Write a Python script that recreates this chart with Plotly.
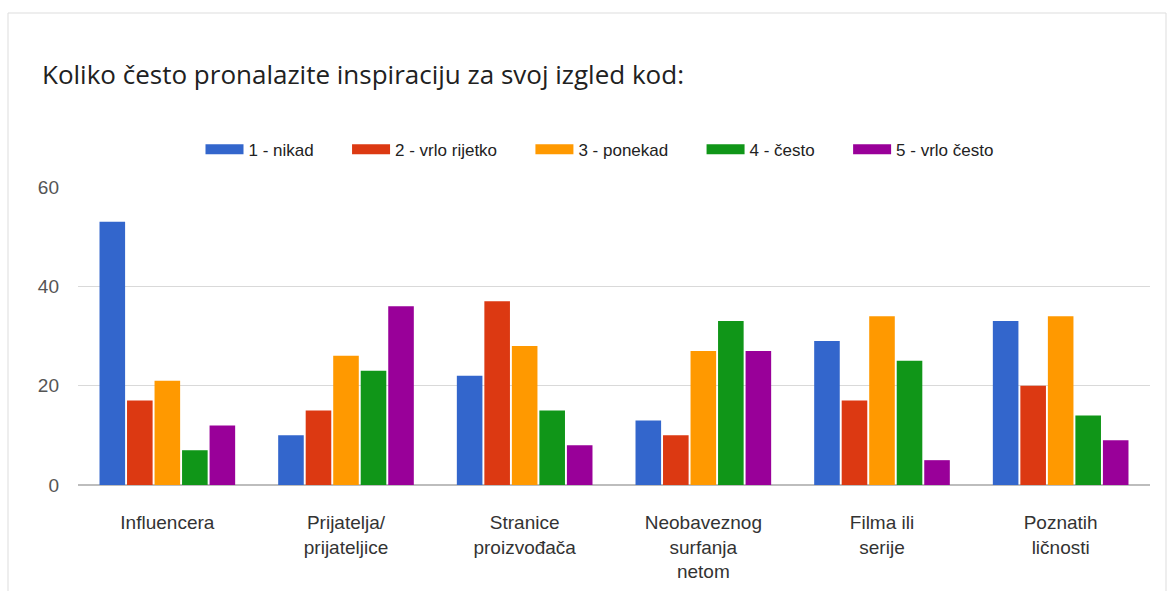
import plotly.graph_objects as go

categories = ["Influencera", "Prijatelja/<br>prijateljice", "Stranice<br>proizvođača",
              "Neobaveznog<br>surfanja<br>netom", "Filma ili<br>serije", "Poznatih<br>ličnosti"]
series_names = ["1 - nikad", "2 - vrlo rijetko", "3 - ponekad", "4 - često", "5 - vrlo često"]
nikad = [53, 10, 22, 13, 29, 33]
vrlo_rijetko = [17, 15, 37, 10, 17, 20]
ponekad = [21, 26, 28, 27, 34, 34]
cesto = [7, 23, 15, 33, 25, 14]
vrlo_cesto = [12, 36, 8, 27, 5, 9]
y_ticks = [0, 20, 40, 60]

colors = ["#3366cc", "#dc3912", "#ff9900", "#109618", "#990099"]
series = [nikad, vrlo_rijetko, ponekad, cesto, vrlo_cesto]

fig = go.Figure()
for name, vals, col in zip(series_names, series, colors):
    fig.add_trace(go.Bar(x=categories, y=vals, name=name, showlegend=False,
                         marker=dict(color=col, line=dict(width=0))))
# legend entries drawn as wide colour swatches like the original
# (trailing nbsp give the wider spacing between entries)
for name, col in zip(series_names, colors):
    fig.add_trace(go.Scatter(x=[None], y=[None], name=name + "\u00a0" * 6, mode="lines",
                             line=dict(color=col, width=14)))

fig.update_layout(
    width=1169, height=591,
    paper_bgcolor="white", plot_bgcolor="white",
    margin=dict(l=78, r=19, t=187, b=106),
    barmode="group", bargap=0.23, bargroupgap=0.07,
    font=dict(family="Liberation Sans, Arial, sans-serif", color="#222"),
    title=dict(text="Koliko često pronalazite inspiraciju za svoj izgled kod:",
               x=42 / 1169, xref="container", xanchor="left",
               y=1 - 75 / 591, yref="container", yanchor="middle",
               font=dict(family="Open Sans, sans-serif", size=26, color="#212121")),
    legend=dict(orientation="h", x=0.5, xanchor="center", y=1.125, yanchor="middle",
                font=dict(size=17, color="#222"), itemwidth=38, traceorder="normal"),
    showlegend=True,
)
fig.update_xaxes(showgrid=False, showline=False, ticks="", ticklabelstandoff=24,
                 automargin=False, tickfont=dict(size=19, color="#333"))
fig.update_yaxes(range=[0, 60], tickvals=y_ticks, showgrid=True, gridcolor="#d9d9d9",
                 zeroline=True, zerolinecolor="#bdbdbd", showline=False, automargin=False,
                 tickfont=dict(size=19, color="#555"), ticklabelstandoff=18)

# thin frame around the chart card
fig.add_shape(type="rect", xref="paper", yref="paper",
              x0=-70 / 1072, x1=1088 / 1072, y0=-0.5, y1=1 + 174 / 298,
              line=dict(color="#dddddd", width=1), fillcolor="rgba(0,0,0,0)", layer="below")

fig.write_html("out.html", config={"displayModeBar": False},
               post_script="document.body.style.margin='0';")
